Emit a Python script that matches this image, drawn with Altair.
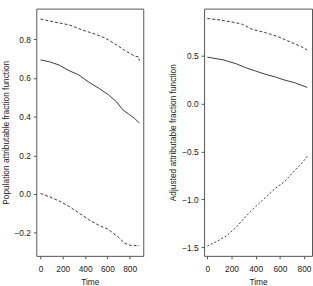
import altair as alt
import pandas as pd

# Population attributable fraction (left panel): estimate with lower/upper bounds
paf_time = [0, 79, 167, 256, 344, 432, 520, 608, 682, 740, 799, 843, 887]
paf_est = [0.694, 0.684, 0.667, 0.638, 0.616, 0.579, 0.548, 0.514, 0.477, 0.435, 0.410, 0.392, 0.367]

paf_up_time = [0, 138, 256, 373, 491, 579, 667, 755, 843, 880, 887]
paf_upper = [0.905, 0.888, 0.875, 0.849, 0.827, 0.807, 0.777, 0.743, 0.714, 0.709, 0.689]

paf_lo_time = [0, 79, 167, 256, 344, 432, 520, 608, 696, 755, 814, 887]
paf_lower = [0.003, -0.014, -0.036, -0.064, -0.098, -0.132, -0.161, -0.183, -0.222, -0.255, -0.267, -0.267]

# Adjusted attributable fraction (right panel)
aaf_time = [0, 130, 238, 318, 399, 480, 561, 642, 723, 826]
aaf_est = [0.488, 0.460, 0.419, 0.377, 0.343, 0.309, 0.281, 0.247, 0.220, 0.171]

aaf_up_time = [0, 130, 238, 291, 372, 480, 589, 696, 777, 826]
aaf_upper = [0.893, 0.872, 0.848, 0.831, 0.779, 0.745, 0.701, 0.642, 0.598, 0.563]

aaf_lo_time = [0, 75, 156, 238, 318, 399, 480, 561, 642, 723, 777, 826]
aaf_lower = [-1.489, -1.443, -1.385, -1.293, -1.179, -1.076, -0.983, -0.887, -0.811, -0.698, -0.629, -0.551]

x_ticks = [0, 200, 400, 600, 800]
paf_ticks = [-0.2, 0.0, 0.2, 0.4, 0.6, 0.8]
aaf_ticks = [-1.5, -1.0, -0.5, 0.0, 0.5]

FONT = "Liberation Sans"
LINE = "#3a3a3a"


def frame(times, values, series):
    return pd.DataFrame({"time": times, "value": values, "series": series})


def panel(est, upper, lower, xdom, ydom, yticks, ytitle, lower_dash, width):
    x = alt.X("time:Q", scale=alt.Scale(domain=xdom, nice=False, zero=False),
              axis=alt.Axis(values=x_ticks, title="Time", format="d"))
    y = alt.Y("value:Q", scale=alt.Scale(domain=ydom, nice=False, zero=False),
              axis=alt.Axis(values=yticks, title=ytitle, format=".1f"))
    solid = alt.Chart(est).mark_line(color=LINE, strokeWidth=1, clip=True).encode(x=x, y=y)
    up = alt.Chart(upper).mark_line(color=LINE, strokeWidth=1, strokeDash=[3, 2], clip=True).encode(x=x, y=y)
    lo = alt.Chart(lower).mark_line(color=LINE, strokeWidth=1, strokeDash=lower_dash, clip=True).encode(x=x, y=y)
    return alt.layer(up, solid, lo).properties(width=width, height=252)


left = panel(
    frame(paf_time, paf_est, "est"),
    frame(paf_up_time, paf_upper, "upper"),
    frame(paf_lo_time, paf_lower, "lower"),
    [-38, 922], [-0.320, 0.959], paf_ticks,
    "Population attributable fraction function", [3, 2], 109,
)
right = panel(
    frame(aaf_time, aaf_est, "est"),
    frame(aaf_up_time, aaf_upper, "upper"),
    frame(aaf_lo_time, aaf_lower, "lower"),
    [-27, 866], [-1.592, 0.996], aaf_ticks,
    "Adjusted attributable fraction function", [2, 2], 110,
)

chart = (
    alt.hconcat(left, right, spacing=24)
    .properties(padding={"left": 0, "top": 5, "right": 0, "bottom": 0}, background="white")
    .configure_view(stroke="#555555", strokeWidth=1)
    .configure_axis(
        domain=False,
        ticks=True,
        tickColor="#555555",
        tickSize=3,
        grid=False,
        labelFont=FONT,
        titleFont=FONT,
        labelFontSize=8.5,
        titleFontSize=8.5,
        titleFontWeight="normal",
        labelColor="#222222",
        titleColor="#222222",
    )
    .configure_axisY(labelAngle=0, labelPadding=3, titlePadding=4)
    .configure_axisX(labelPadding=6, titlePadding=5)
)

chart.save("out.html", embed_options={"renderer": "svg", "actions": False})
